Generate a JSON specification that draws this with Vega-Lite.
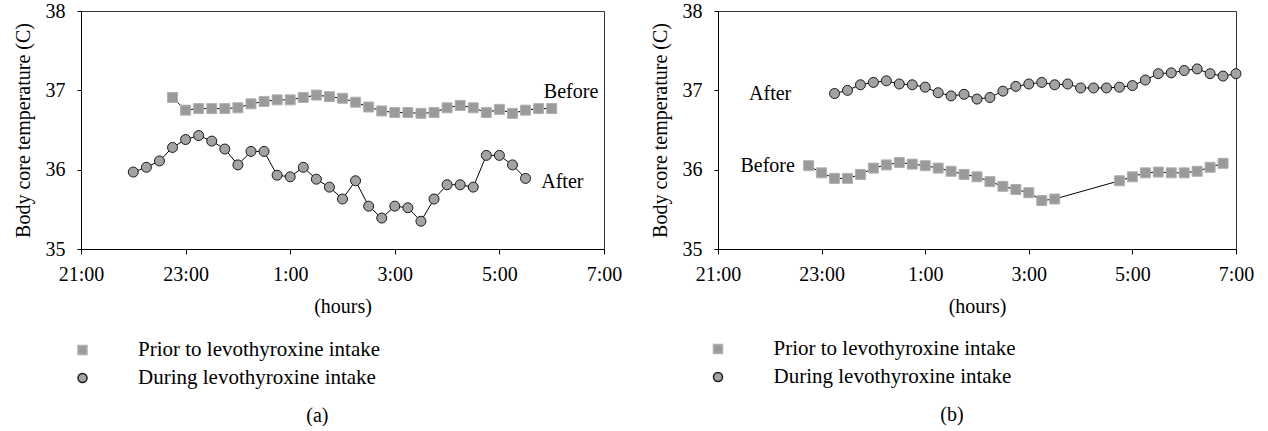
{
  "$schema": "https://vega.github.io/schema/vega-lite/v6.json",
  "padding": {"left": 12, "top": 0, "right": 0, "bottom": 0},
  "background": "white",
  "config": {
    "font": "Liberation Serif",
    "view": {"stroke": "#333333", "strokeWidth": 1},
    "axis": {"labelFont": "Liberation Serif", "titleFont": "Liberation Serif", "labelFontSize": 20, "titleFontSize": 20, "titleFontWeight": "normal", "labelColor": "black", "titleColor": "black", "domainColor": "black", "tickColor": "black", "grid": false},
    "legend": {"labelFont": "Liberation Serif", "labelFontSize": 21, "labelColor": "black", "padding": 0, "labelLimit": 0},
    "title": {"font": "Liberation Serif", "fontSize": 20, "fontWeight": "normal", "color": "black"}
  },
  "datasets": {
    "a": [
      {"time": "2000-01-01T22:45", "temp": 36.91, "series": "Prior to levothyroxine intake"},
      {"time": "2000-01-01T23:00", "temp": 36.75, "series": "Prior to levothyroxine intake"},
      {"time": "2000-01-01T23:15", "temp": 36.77, "series": "Prior to levothyroxine intake"},
      {"time": "2000-01-01T23:30", "temp": 36.77, "series": "Prior to levothyroxine intake"},
      {"time": "2000-01-01T23:45", "temp": 36.77, "series": "Prior to levothyroxine intake"},
      {"time": "2000-01-02T00:00", "temp": 36.78, "series": "Prior to levothyroxine intake"},
      {"time": "2000-01-02T00:15", "temp": 36.83, "series": "Prior to levothyroxine intake"},
      {"time": "2000-01-02T00:30", "temp": 36.86, "series": "Prior to levothyroxine intake"},
      {"time": "2000-01-02T00:45", "temp": 36.88, "series": "Prior to levothyroxine intake"},
      {"time": "2000-01-02T01:00", "temp": 36.88, "series": "Prior to levothyroxine intake"},
      {"time": "2000-01-02T01:15", "temp": 36.91, "series": "Prior to levothyroxine intake"},
      {"time": "2000-01-02T01:30", "temp": 36.94, "series": "Prior to levothyroxine intake"},
      {"time": "2000-01-02T01:45", "temp": 36.92, "series": "Prior to levothyroxine intake"},
      {"time": "2000-01-02T02:00", "temp": 36.90, "series": "Prior to levothyroxine intake"},
      {"time": "2000-01-02T02:15", "temp": 36.85, "series": "Prior to levothyroxine intake"},
      {"time": "2000-01-02T02:30", "temp": 36.79, "series": "Prior to levothyroxine intake"},
      {"time": "2000-01-02T02:45", "temp": 36.74, "series": "Prior to levothyroxine intake"},
      {"time": "2000-01-02T03:00", "temp": 36.72, "series": "Prior to levothyroxine intake"},
      {"time": "2000-01-02T03:15", "temp": 36.72, "series": "Prior to levothyroxine intake"},
      {"time": "2000-01-02T03:30", "temp": 36.71, "series": "Prior to levothyroxine intake"},
      {"time": "2000-01-02T03:45", "temp": 36.72, "series": "Prior to levothyroxine intake"},
      {"time": "2000-01-02T04:00", "temp": 36.78, "series": "Prior to levothyroxine intake"},
      {"time": "2000-01-02T04:15", "temp": 36.81, "series": "Prior to levothyroxine intake"},
      {"time": "2000-01-02T04:30", "temp": 36.78, "series": "Prior to levothyroxine intake"},
      {"time": "2000-01-02T04:45", "temp": 36.72, "series": "Prior to levothyroxine intake"},
      {"time": "2000-01-02T05:00", "temp": 36.76, "series": "Prior to levothyroxine intake"},
      {"time": "2000-01-02T05:15", "temp": 36.71, "series": "Prior to levothyroxine intake"},
      {"time": "2000-01-02T05:30", "temp": 36.75, "series": "Prior to levothyroxine intake"},
      {"time": "2000-01-02T05:45", "temp": 36.77, "series": "Prior to levothyroxine intake"},
      {"time": "2000-01-02T06:00", "temp": 36.77, "series": "Prior to levothyroxine intake"},
      {"time": "2000-01-01T22:00", "temp": 35.97, "series": "During levothyroxine intake"},
      {"time": "2000-01-01T22:15", "temp": 36.03, "series": "During levothyroxine intake"},
      {"time": "2000-01-01T22:30", "temp": 36.11, "series": "During levothyroxine intake"},
      {"time": "2000-01-01T22:45", "temp": 36.28, "series": "During levothyroxine intake"},
      {"time": "2000-01-01T23:00", "temp": 36.38, "series": "During levothyroxine intake"},
      {"time": "2000-01-01T23:15", "temp": 36.43, "series": "During levothyroxine intake"},
      {"time": "2000-01-01T23:30", "temp": 36.36, "series": "During levothyroxine intake"},
      {"time": "2000-01-01T23:45", "temp": 36.26, "series": "During levothyroxine intake"},
      {"time": "2000-01-02T00:00", "temp": 36.06, "series": "During levothyroxine intake"},
      {"time": "2000-01-02T00:15", "temp": 36.23, "series": "During levothyroxine intake"},
      {"time": "2000-01-02T00:30", "temp": 36.23, "series": "During levothyroxine intake"},
      {"time": "2000-01-02T00:45", "temp": 35.93, "series": "During levothyroxine intake"},
      {"time": "2000-01-02T01:00", "temp": 35.91, "series": "During levothyroxine intake"},
      {"time": "2000-01-02T01:15", "temp": 36.03, "series": "During levothyroxine intake"},
      {"time": "2000-01-02T01:30", "temp": 35.88, "series": "During levothyroxine intake"},
      {"time": "2000-01-02T01:45", "temp": 35.78, "series": "During levothyroxine intake"},
      {"time": "2000-01-02T02:00", "temp": 35.63, "series": "During levothyroxine intake"},
      {"time": "2000-01-02T02:15", "temp": 35.86, "series": "During levothyroxine intake"},
      {"time": "2000-01-02T02:30", "temp": 35.54, "series": "During levothyroxine intake"},
      {"time": "2000-01-02T02:45", "temp": 35.39, "series": "During levothyroxine intake"},
      {"time": "2000-01-02T03:00", "temp": 35.54, "series": "During levothyroxine intake"},
      {"time": "2000-01-02T03:15", "temp": 35.52, "series": "During levothyroxine intake"},
      {"time": "2000-01-02T03:30", "temp": 35.35, "series": "During levothyroxine intake"},
      {"time": "2000-01-02T03:45", "temp": 35.63, "series": "During levothyroxine intake"},
      {"time": "2000-01-02T04:00", "temp": 35.81, "series": "During levothyroxine intake"},
      {"time": "2000-01-02T04:15", "temp": 35.81, "series": "During levothyroxine intake"},
      {"time": "2000-01-02T04:30", "temp": 35.78, "series": "During levothyroxine intake"},
      {"time": "2000-01-02T04:45", "temp": 36.18, "series": "During levothyroxine intake"},
      {"time": "2000-01-02T05:00", "temp": 36.18, "series": "During levothyroxine intake"},
      {"time": "2000-01-02T05:15", "temp": 36.06, "series": "During levothyroxine intake"},
      {"time": "2000-01-02T05:30", "temp": 35.89, "series": "During levothyroxine intake"}
    ],
    "b": [
      {"time": "2000-01-01T22:45", "temp": 36.05, "series": "Prior to levothyroxine intake"},
      {"time": "2000-01-01T23:00", "temp": 35.96, "series": "Prior to levothyroxine intake"},
      {"time": "2000-01-01T23:15", "temp": 35.89, "series": "Prior to levothyroxine intake"},
      {"time": "2000-01-01T23:30", "temp": 35.89, "series": "Prior to levothyroxine intake"},
      {"time": "2000-01-01T23:45", "temp": 35.94, "series": "Prior to levothyroxine intake"},
      {"time": "2000-01-02T00:00", "temp": 36.02, "series": "Prior to levothyroxine intake"},
      {"time": "2000-01-02T00:15", "temp": 36.06, "series": "Prior to levothyroxine intake"},
      {"time": "2000-01-02T00:30", "temp": 36.09, "series": "Prior to levothyroxine intake"},
      {"time": "2000-01-02T00:45", "temp": 36.07, "series": "Prior to levothyroxine intake"},
      {"time": "2000-01-02T01:00", "temp": 36.05, "series": "Prior to levothyroxine intake"},
      {"time": "2000-01-02T01:15", "temp": 36.02, "series": "Prior to levothyroxine intake"},
      {"time": "2000-01-02T01:30", "temp": 35.98, "series": "Prior to levothyroxine intake"},
      {"time": "2000-01-02T01:45", "temp": 35.94, "series": "Prior to levothyroxine intake"},
      {"time": "2000-01-02T02:00", "temp": 35.91, "series": "Prior to levothyroxine intake"},
      {"time": "2000-01-02T02:15", "temp": 35.85, "series": "Prior to levothyroxine intake"},
      {"time": "2000-01-02T02:30", "temp": 35.79, "series": "Prior to levothyroxine intake"},
      {"time": "2000-01-02T02:45", "temp": 35.75, "series": "Prior to levothyroxine intake"},
      {"time": "2000-01-02T03:00", "temp": 35.71, "series": "Prior to levothyroxine intake"},
      {"time": "2000-01-02T03:15", "temp": 35.61, "series": "Prior to levothyroxine intake"},
      {"time": "2000-01-02T03:30", "temp": 35.63, "series": "Prior to levothyroxine intake"},
      {"time": "2000-01-02T04:45", "temp": 35.86, "series": "Prior to levothyroxine intake"},
      {"time": "2000-01-02T05:00", "temp": 35.91, "series": "Prior to levothyroxine intake"},
      {"time": "2000-01-02T05:15", "temp": 35.96, "series": "Prior to levothyroxine intake"},
      {"time": "2000-01-02T05:30", "temp": 35.97, "series": "Prior to levothyroxine intake"},
      {"time": "2000-01-02T05:45", "temp": 35.96, "series": "Prior to levothyroxine intake"},
      {"time": "2000-01-02T06:00", "temp": 35.96, "series": "Prior to levothyroxine intake"},
      {"time": "2000-01-02T06:15", "temp": 35.98, "series": "Prior to levothyroxine intake"},
      {"time": "2000-01-02T06:30", "temp": 36.03, "series": "Prior to levothyroxine intake"},
      {"time": "2000-01-02T06:45", "temp": 36.08, "series": "Prior to levothyroxine intake"},
      {"time": "2000-01-01T23:15", "temp": 36.96, "series": "During levothyroxine intake"},
      {"time": "2000-01-01T23:30", "temp": 37.00, "series": "During levothyroxine intake"},
      {"time": "2000-01-01T23:45", "temp": 37.07, "series": "During levothyroxine intake"},
      {"time": "2000-01-02T00:00", "temp": 37.10, "series": "During levothyroxine intake"},
      {"time": "2000-01-02T00:15", "temp": 37.12, "series": "During levothyroxine intake"},
      {"time": "2000-01-02T00:30", "temp": 37.08, "series": "During levothyroxine intake"},
      {"time": "2000-01-02T00:45", "temp": 37.07, "series": "During levothyroxine intake"},
      {"time": "2000-01-02T01:00", "temp": 37.04, "series": "During levothyroxine intake"},
      {"time": "2000-01-02T01:15", "temp": 36.97, "series": "During levothyroxine intake"},
      {"time": "2000-01-02T01:30", "temp": 36.93, "series": "During levothyroxine intake"},
      {"time": "2000-01-02T01:45", "temp": 36.95, "series": "During levothyroxine intake"},
      {"time": "2000-01-02T02:00", "temp": 36.89, "series": "During levothyroxine intake"},
      {"time": "2000-01-02T02:15", "temp": 36.91, "series": "During levothyroxine intake"},
      {"time": "2000-01-02T02:30", "temp": 36.99, "series": "During levothyroxine intake"},
      {"time": "2000-01-02T02:45", "temp": 37.05, "series": "During levothyroxine intake"},
      {"time": "2000-01-02T03:00", "temp": 37.08, "series": "During levothyroxine intake"},
      {"time": "2000-01-02T03:15", "temp": 37.10, "series": "During levothyroxine intake"},
      {"time": "2000-01-02T03:30", "temp": 37.07, "series": "During levothyroxine intake"},
      {"time": "2000-01-02T03:45", "temp": 37.08, "series": "During levothyroxine intake"},
      {"time": "2000-01-02T04:00", "temp": 37.03, "series": "During levothyroxine intake"},
      {"time": "2000-01-02T04:15", "temp": 37.03, "series": "During levothyroxine intake"},
      {"time": "2000-01-02T04:30", "temp": 37.03, "series": "During levothyroxine intake"},
      {"time": "2000-01-02T04:45", "temp": 37.04, "series": "During levothyroxine intake"},
      {"time": "2000-01-02T05:00", "temp": 37.06, "series": "During levothyroxine intake"},
      {"time": "2000-01-02T05:15", "temp": 37.13, "series": "During levothyroxine intake"},
      {"time": "2000-01-02T05:30", "temp": 37.21, "series": "During levothyroxine intake"},
      {"time": "2000-01-02T05:45", "temp": 37.22, "series": "During levothyroxine intake"},
      {"time": "2000-01-02T06:00", "temp": 37.25, "series": "During levothyroxine intake"},
      {"time": "2000-01-02T06:15", "temp": 37.27, "series": "During levothyroxine intake"},
      {"time": "2000-01-02T06:30", "temp": 37.21, "series": "During levothyroxine intake"},
      {"time": "2000-01-02T06:45", "temp": 37.18, "series": "During levothyroxine intake"},
      {"time": "2000-01-02T07:00", "temp": 37.21, "series": "During levothyroxine intake"}
    ],
    "labels_a": [
      {"time": "2000-01-02T05:51", "temp": 36.98, "label": "Before"},
      {"time": "2000-01-02T05:48", "temp": 35.85, "label": "After"}
    ],
    "labels_b": [
      {"time": "2000-01-01T21:36", "temp": 36.95, "label": "After"},
      {"time": "2000-01-01T21:26", "temp": 36.05, "label": "Before"}
    ]
  },
  "spacing": 26,
  "resolve": {
    "scale": {"shape": "independent", "fill": "independent", "stroke": "independent", "x": "independent", "y": "independent"},
    "legend": {"shape": "independent", "fill": "independent", "stroke": "independent"}
  },
  "hconcat": [
    {
      "width": 523,
      "height": 238,
      "title": {"text": "(a)", "orient": "bottom", "anchor": "middle", "frame": "bounds", "offset": 17},
      "layer": [
        {
          "data": {"name": "a"},
          "mark": {"type": "line", "color": "black", "strokeWidth": 1},
          "encoding": {
            "x": {"field": "time", "type": "temporal", "scale": {"domain": [{"year": 2000, "month": 1, "date": 1, "hours": 21}, {"year": 2000, "month": 1, "date": 2, "hours": 7}]},
              "axis": {"title": "(hours)", "format": "%-H:%M", "values": [{"year": 2000, "month": 1, "date": 1, "hours": 21}, {"year": 2000, "month": 1, "date": 1, "hours": 23}, {"year": 2000, "month": 1, "date": 2, "hours": 1}, {"year": 2000, "month": 1, "date": 2, "hours": 3}, {"year": 2000, "month": 1, "date": 2, "hours": 5}, {"year": 2000, "month": 1, "date": 2, "hours": 7}], "tickSize": 5, "labelPadding": 10, "titlePadding": 12, "labelFlush": false, "labelOverlap": false}},
            "y": {"field": "temp", "type": "quantitative", "scale": {"domain": [35, 38], "nice": false, "zero": false},
              "axis": {"title": "Body core temperature (C)", "values": [35, 36, 37, 38], "format": "d", "tickSize": 4, "labelPadding": 12, "titlePadding": 12}},
            "detail": {"field": "series"}
          }
        },
        {
          "data": {"name": "a"},
          "mark": {"type": "point", "filled": true, "strokeWidth": 1, "opacity": 1, "size": 100},
          "encoding": {
            "x": {"field": "time", "type": "temporal"},
            "y": {"field": "temp", "type": "quantitative"},
            "shape": {"field": "series", "type": "nominal", "scale": {"domain": ["Prior to levothyroxine intake", "During levothyroxine intake"], "range": ["square", "circle"]},
              "legend": {"title": null, "orient": "none", "legendX": -9, "legendY": 328.5, "symbolSize": 81, "labelOffset": 45, "rowPadding": 6}},
            "fill": {"field": "series", "type": "nominal", "scale": {"domain": ["Prior to levothyroxine intake", "During levothyroxine intake"], "range": ["#9a9a9a", "#a3a3a5"]},
              "legend": {"title": null, "orient": "none", "legendX": -9, "legendY": 328.5, "symbolSize": 81, "labelOffset": 45, "rowPadding": 6}},
            "stroke": {"field": "series", "type": "nominal", "scale": {"domain": ["Prior to levothyroxine intake", "During levothyroxine intake"], "range": ["#b0b0b0", "#1a1a1a"]},
              "legend": {"title": null, "orient": "none", "legendX": -9, "legendY": 328.5, "symbolSize": 81, "labelOffset": 45, "rowPadding": 6}}
          }
        },
        {
          "data": {"name": "labels_a"},
          "mark": {"type": "text", "align": "left", "baseline": "middle", "fontSize": 20, "font": "Liberation Serif", "color": "black"},
          "encoding": {
            "x": {"field": "time", "type": "temporal"},
            "y": {"field": "temp", "type": "quantitative"},
            "text": {"field": "label"}
          }
        }
      ]
    },
    {
      "width": 518,
      "height": 238,
      "title": {"text": "(b)", "orient": "bottom", "anchor": "middle", "frame": "bounds", "offset": 17},
      "layer": [
        {
          "data": {"name": "b"},
          "mark": {"type": "line", "color": "black", "strokeWidth": 1},
          "encoding": {
            "x": {"field": "time", "type": "temporal", "scale": {"domain": [{"year": 2000, "month": 1, "date": 1, "hours": 21}, {"year": 2000, "month": 1, "date": 2, "hours": 7}]},
              "axis": {"title": "(hours)", "format": "%-H:%M", "values": [{"year": 2000, "month": 1, "date": 1, "hours": 21}, {"year": 2000, "month": 1, "date": 1, "hours": 23}, {"year": 2000, "month": 1, "date": 2, "hours": 1}, {"year": 2000, "month": 1, "date": 2, "hours": 3}, {"year": 2000, "month": 1, "date": 2, "hours": 5}, {"year": 2000, "month": 1, "date": 2, "hours": 7}], "tickSize": 5, "labelPadding": 10, "titlePadding": 12, "labelFlush": false, "labelOverlap": false}},
            "y": {"field": "temp", "type": "quantitative", "scale": {"domain": [35, 38], "nice": false, "zero": false},
              "axis": {"title": "Body core temperature (C)", "values": [35, 36, 37, 38], "format": "d", "tickSize": 4, "labelPadding": 12, "titlePadding": 12}},
            "detail": {"field": "series"}
          }
        },
        {
          "data": {"name": "b"},
          "mark": {"type": "point", "filled": true, "strokeWidth": 1, "opacity": 1, "size": 100},
          "encoding": {
            "x": {"field": "time", "type": "temporal"},
            "y": {"field": "temp", "type": "quantitative"},
            "shape": {"field": "series", "type": "nominal", "scale": {"domain": ["Prior to levothyroxine intake", "During levothyroxine intake"], "range": ["square", "circle"]},
              "legend": {"title": null, "orient": "none", "legendX": -10.5, "legendY": 327.5, "symbolSize": 81, "labelOffset": 45, "rowPadding": 6}},
            "fill": {"field": "series", "type": "nominal", "scale": {"domain": ["Prior to levothyroxine intake", "During levothyroxine intake"], "range": ["#9a9a9a", "#a3a3a5"]},
              "legend": {"title": null, "orient": "none", "legendX": -10.5, "legendY": 327.5, "symbolSize": 81, "labelOffset": 45, "rowPadding": 6}},
            "stroke": {"field": "series", "type": "nominal", "scale": {"domain": ["Prior to levothyroxine intake", "During levothyroxine intake"], "range": ["#b0b0b0", "#1a1a1a"]},
              "legend": {"title": null, "orient": "none", "legendX": -10.5, "legendY": 327.5, "symbolSize": 81, "labelOffset": 45, "rowPadding": 6}}
          }
        },
        {
          "data": {"name": "labels_b"},
          "mark": {"type": "text", "align": "left", "baseline": "middle", "fontSize": 20, "font": "Liberation Serif", "color": "black"},
          "encoding": {
            "x": {"field": "time", "type": "temporal"},
            "y": {"field": "temp", "type": "quantitative"},
            "text": {"field": "label"}
          }
        }
      ]
    }
  ]
}
